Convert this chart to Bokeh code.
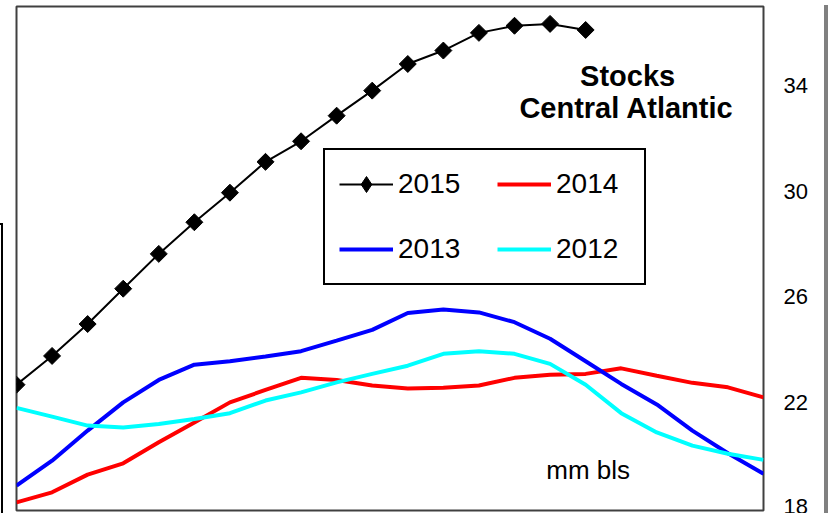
import numpy as np
from bokeh.plotting import figure
from bokeh.models import Range1d, Legend, LegendItem, Label, Div, FixedTicker
from bokeh.layouts import row
from bokeh.embed import file_html
from bokeh.resources import INLINE

weeks = list(range(22))
s2015 = [22.66, 23.75, 24.96, 26.30, 27.62, 28.82, 29.94, 31.11, 31.89, 32.86,
         33.81, 34.82, 35.33, 36.00, 36.27, 36.34, 36.11]
s2014 = [18.20, 18.58, 19.25, 19.68, 20.48, 21.23, 21.99, 22.46, 22.92, 22.84,
         22.63, 22.52, 22.54, 22.63, 22.92, 23.04, 23.07, 23.28, 23.00, 22.73,
         22.56, 22.18]
s2013 = [18.83, 19.78, 20.92, 21.99, 22.84, 23.42, 23.55, 23.73, 23.93, 24.33,
         24.74, 25.38, 25.51, 25.40, 25.03, 24.40, 23.55, 22.69, 21.91, 20.92,
         20.06, 19.28]
s2012 = [21.78, 21.45, 21.11, 21.04, 21.17, 21.36, 21.58, 22.06, 22.37, 22.75,
         23.07, 23.38, 23.83, 23.93, 23.83, 23.45, 22.66, 21.58, 20.85, 20.35,
         20.04, 19.81]
y_ticks = [18, 22, 26, 30, 34]
title_lines = ["Stocks", "Central Atlantic"]
unit_label = "mm bls"

FONT = "Liberation Sans"

p = figure(width=816, height=513, output_backend="svg", toolbar_location=None,
           x_range=Range1d(0, 21), y_range=Range1d(17.89, 37.0),
           y_axis_location="right", x_axis_location=None,
           min_border_left=13, min_border_right=56, min_border_top=6, min_border_bottom=3)
p.grid.visible = False
p.outline_line_color = "#404040"
p.outline_line_width = 2
p.background_fill_color = "white"
p.border_fill_color = "white"

ax = p.yaxis[0]
ax.ticker = FixedTicker(ticks=y_ticks)
ax.axis_line_color = None
ax.major_tick_line_color = None
ax.minor_tick_line_color = None
ax.major_tick_out = 0
ax.major_tick_in = 0
ax.major_label_standoff = 20
ax.major_label_text_font = FONT
ax.major_label_text_font_size = "22px"
ax.major_label_text_color = "black"

r14 = p.line(weeks[:len(s2014)], s2014, line_color="#ff0000", line_width=4)
r13 = p.line(weeks[:len(s2013)], s2013, line_color="#0000ff", line_width=4)
r12 = p.line(weeks[:len(s2012)], s2012, line_color="#00ffff", line_width=4)
r15l = p.line(weeks[:len(s2015)], s2015, line_color="black", line_width=2)
# diamond used for the legend entry (drawn underneath, hidden by the rotated squares)
r15leg = p.scatter(weeks[:len(s2015)], s2015, marker="diamond", size=12,
                   fill_color="black", line_color="black")
r15m = p.scatter(weeks[:len(s2015)], s2015, marker="square", angle=np.pi / 4,
                 size=12, fill_color="black", line_color="black")

legend = Legend(items=[
    LegendItem(label="2015", renderers=[r15l, r15leg]),
    LegendItem(label="2014", renderers=[r14]),
    LegendItem(label="2013", renderers=[r13]),
    LegendItem(label="2012", renderers=[r12]),
], orientation="horizontal", ncols=2, location=(307, 225))
legend.label_text_font = FONT
legend.label_text_font_size = "28px"
legend.label_text_color = "black"
legend.glyph_width = 54
legend.glyph_height = 40
legend.label_height = 40
legend.label_width = 74
legend.label_standoff = 5
legend.spacing = 25
legend.padding = 14
legend.margin = 0
legend.border_line_color = "black"
legend.border_line_width = 2
legend.border_line_alpha = 1
legend.background_fill_color = "white"
legend.background_fill_alpha = 1
p.add_layout(legend, "center")

p.add_layout(Label(x=17.18, y=34.38, text=title_lines[0], text_align="center",
                   text_baseline="alphabetic", text_font=FONT, text_font_size="29px",
                   text_font_style="bold", text_color="black"))
p.add_layout(Label(x=17.15, y=33.15, text=title_lines[1], text_align="center",
                   text_baseline="alphabetic", text_font=FONT, text_font_size="29px",
                   text_font_style="bold", text_color="black"))
p.add_layout(Label(x=16.07, y=19.42, text=unit_label, text_align="center",
                   text_baseline="alphabetic", text_font=FONT, text_font_size="26px",
                   text_color="black"))

left_box = Div(text="", width=3, height=290, margin=(223, 0, 0, 0),
               styles={"border-top": "2px solid black", "border-right": "2px solid black",
                       "box-sizing": "border-box"})
bar = Div(text="", width=5, height=513, styles={"background-color": "#808080"})
layout = row(left_box, p, bar)

open("out.html", "w").write(file_html(layout, INLINE))
